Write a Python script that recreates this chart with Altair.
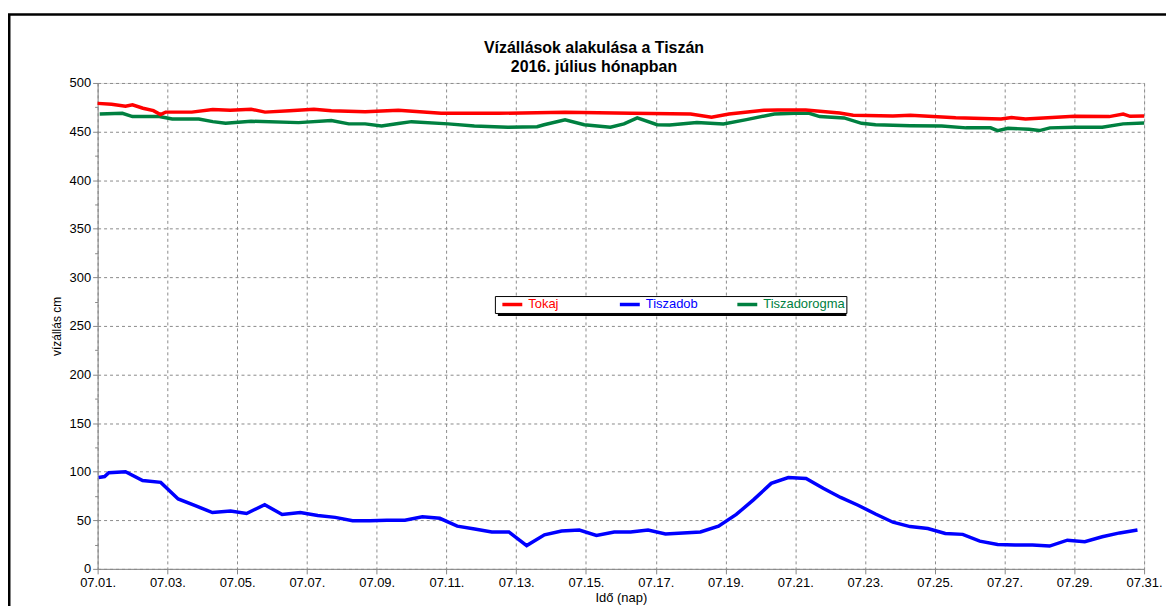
import altair as alt
import pandas as pd

# ---- data (day offset from 07.01. 00:00, water level cm) ----
tokaj_day = [0.0, 0.4, 0.8, 1.0, 1.3, 1.6, 1.8, 1.95, 2.7, 3.3, 3.8, 4.4, 4.8, 5.5, 6.2, 6.7,
             7.67, 8.62, 9.85, 11.5, 13.4, 15.3, 17.0, 17.6, 18.1, 19.1, 19.5, 20.3, 21.27,
             21.66, 22.8, 23.3, 24.6, 25.9, 26.2, 26.6, 28.0, 29.0, 29.4, 29.6, 30.0]
tokaj_val = [479, 478, 476, 477.5, 474, 471.5, 467.5, 470, 470, 472.8, 472, 473, 470, 471.5,
             473, 471.5, 470.5, 472, 468.8, 468.8, 469.8, 468.8, 468.1, 464.7, 468, 472,
             472.2, 472.2, 469, 466.7, 466, 466.7, 464.3, 463, 464.5, 463, 465.7, 465.4,
             468, 465.7, 466]

tiszadob_day = [0.03, 0.2, 0.32, 0.8, 1.29, 1.81, 2.31, 2.80, 3.29, 3.81, 4.27, 4.79, 5.29,
                5.81, 6.31, 6.81, 7.31, 7.81, 8.29, 8.81, 9.31, 9.81, 10.31, 10.81, 11.30,
                11.79, 12.30, 12.81, 13.30, 13.81, 14.30, 14.81, 15.28, 15.78, 16.28, 16.78,
                17.28, 17.80, 18.31, 18.80, 19.31, 19.80, 20.31, 20.80, 21.30, 21.80, 22.30,
                22.80, 23.29, 23.80, 24.30, 24.80, 25.29, 25.80, 26.30, 26.80, 27.29, 27.80,
                28.30, 28.80, 29.30, 29.81]
tiszadob_val = [94, 95, 99, 100, 91, 89, 72, 65, 58, 59.5, 57, 66, 56, 58, 55, 53, 49.5, 49.5,
                50, 50, 53.5, 52, 44, 41, 38, 38, 24, 35, 39, 40, 34.5, 38, 38, 40, 36, 37,
                38, 44, 56, 71, 88, 94, 93, 83, 73.5, 65.5, 56.5, 48, 43.5, 41.5, 36.5, 35.5,
                28.5, 25, 24.5, 24.5, 23.5, 29.5, 28, 33, 37, 40]

dorogma_day = [0.06, 0.71, 1.0, 1.77, 2.14, 2.9, 3.3, 3.67, 4.4, 5.76, 6.7, 7.2, 7.67, 8.14,
               8.62, 9.0, 10.05, 10.8, 11.76, 12.6, 12.8, 13.4, 13.95, 14.7, 15.09, 15.47,
               16.04, 16.4, 17.18, 17.94, 18.6, 19.4, 20.0, 20.4, 20.7, 21.4, 21.9, 22.3,
               23.3, 24.2, 24.9, 25.6, 25.8, 26.1, 26.7, 27.0, 27.3, 28.0, 28.8, 29.4, 30.0]
dorogma_val = [468, 468.8, 465.4, 465.4, 463, 463, 460.2, 458.5, 460.6, 459.2, 461.3, 457.9,
               457.9, 455.8, 458.2, 460.2, 457.9, 455.8, 454.4, 455, 457, 462, 457, 454.4,
               457.9, 464, 457, 456.8, 459.2, 457.9, 462.3, 468.1, 468.8, 468.8, 465.4, 464,
               458.5, 457, 456, 455.8, 453.8, 453.9, 451, 453.4, 452.4, 451, 453.8, 454.4,
               454.4, 457.9, 458.9]

series_names = ["Tokaj", "Tiszadob", "Tiszadorogma"]
series_colors = ["#FF0000", "#0000FF", "#008040"]
title_lines = ["Vízállások alakulása a Tiszán", "2016. július hónapban"]
y_title = "vízállás cm"
x_title = "Idő (nap)"
tick_days = list(range(1, 32, 2))

# ---- build table ----
start = pd.Timestamp("2016-07-01")
frames = []
for name, days, vals in [("Tiszadorogma", dorogma_day, dorogma_val),
                         ("Tokaj", tokaj_day, tokaj_val),
                         ("Tiszadob", tiszadob_day, tiszadob_val)]:
    t = [(start + pd.to_timedelta(d, unit="D")).strftime("%Y-%m-%dT%H:%M:%S") for d in days]
    frames.append(pd.DataFrame({"t": t, "v": vals, "series": name}))
df = pd.concat(frames, ignore_index=True)

FONT = "Liberation Sans"
GRID = dict(gridColor="#8a8a8a", gridDash=[3, 3], gridWidth=1)

x_enc = alt.X(
    "t:T",
    scale=alt.Scale(domain=[alt.DateTime(year=2016, month=7, date=1),
                            alt.DateTime(year=2016, month=7, date=31)]),
    axis=alt.Axis(
        values=[alt.DateTime(year=2016, month=7, date=d) for d in tick_days],
        format="%m.%d.", title=x_title, labelFontSize=13, labelPadding=3,
        tickSize=5, titleFontSize=13, titleFontWeight="normal",
        titleY=29, titleBaseline="middle", labelFlush=False, **GRID,
    ),
)
y_enc = alt.Y(
    "v:Q",
    scale=alt.Scale(domain=[0, 500], nice=False),
    axis=alt.Axis(
        values=list(range(0, 501, 25)),
        labelExpr="datum.value % 50 == 0 ? datum.label : ''",
        gridOpacity=alt.condition("datum.value % 50 == 0", alt.value(1), alt.value(0)),
        tickSize=alt.condition("datum.value % 50 == 0", alt.value(5), alt.value(3)),
        title=y_title, titleFontSize=12, titleFontWeight="normal",
        titleX=-41, titleY=244, titleAngle=270, titleBaseline="middle", titleAlign="center",
        labelFontSize=13, labelPadding=2, **GRID,
    ),
)

lines = alt.Chart(df).mark_line(strokeWidth=3.5, interpolate="linear").encode(
    x=x_enc,
    y=y_enc,
    color=alt.Color(
        "series:N",
        scale=alt.Scale(domain=series_names, range=series_colors),
        legend=alt.Legend(
            orient="none", legendX=399, legendY=214, direction="horizontal",
            title=None, symbolType="M-2,0H2", symbolSize=100, symbolStrokeWidth=3.5,
            symbolOffset=9,
            labelFontSize=13, labelFont=FONT, labelLimit=200, labelOffset=9,
            labelColor=alt.ExprRef(expr="scale('color', datum.value)"),
            gridAlign="all", columnPadding=3, columns=3,
            fillColor="white", strokeColor="black", padding=1.5,
        ),
    ),
    detail="series:N",
    order=alt.Order("t:T"),
)

one = pd.DataFrame({"k": [0]})
frame = alt.Chart(one).mark_rect(filled=False, stroke="black", strokeWidth=2.5).encode(
    x=alt.value(-88.75), x2=alt.value(1300), y=alt.value(-68.7), y2=alt.value(800))
shadow = alt.Chart(one).mark_rect(fill="black").encode(
    x=alt.value(402), x2=alt.value(752), y=alt.value(217), y2=alt.value(234))

chart = alt.layer(frame, shadow, lines).properties(
    width=1051, height=488,
    title=alt.TitleParams(title_lines, fontSize=16, fontWeight="bold", font=FONT,
                          anchor="middle", dx=-27, dy=75, baseline="alphabetic", offset=0,
                          lineHeight=19, color="black", frame="group"),
    autosize=alt.AutoSizeParams(type="none"),
    padding={"left": 90, "top": 74, "right": 22, "bottom": 36},
).configure_axis(
    labelFont=FONT, titleFont=FONT, labelColor="#111", titleColor="#111",
    domainColor="black", domainWidth=2, tickColor="#333", tickWidth=1,
).configure_view(stroke="#555", strokeWidth=1.5).configure(background="white")

chart.save("out.html", embed_options={"renderer": "svg", "actions": False})
